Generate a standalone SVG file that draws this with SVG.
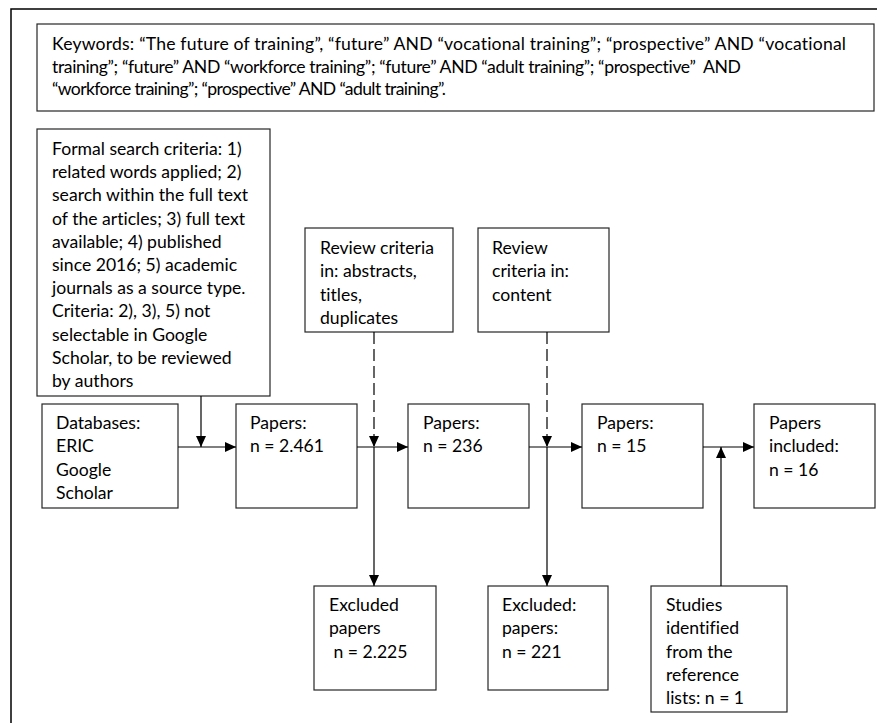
<svg xmlns="http://www.w3.org/2000/svg" width="877" height="723" viewBox="0 0 877 723">
<style>
.box{fill:#fff;stroke:#262626;stroke-width:1.2}
.t{font-family:Lato,"Liberation Sans",sans-serif;font-size:17.6px;fill:#000;font-variant-ligatures:none}
.c{stroke:#000;stroke-width:1.2;fill:none}
.d{stroke:#000;stroke-width:1.2;fill:none;stroke-dasharray:12 5}
.frame{stroke:#000;stroke-width:1.5;fill:none}
</style>
<defs>
<marker id="ah" markerUnits="userSpaceOnUse" markerWidth="12" markerHeight="12" viewBox="0 0 12 12" refX="11" refY="6" orient="auto">
<path d="M0,1 L11,6 L0,11 Z" fill="#000"/>
</marker>
</defs>
<g id="frame"><path class="frame" d="M11,723 V9 H877"/></g>
<g id="keywords">
<rect class="box" x="37" y="24" width="837" height="87"/>
<text class="t" x="52" y="50" textLength="794">Keywords: “The future of training”, “future” AND “vocational training”; “prospective” AND “vocational</text>
<text class="t" x="52" y="72.5" textLength="689" xml:space="preserve">training”; “future” AND “workforce training”; “future” AND “adult training”; “prospective”  AND</text>
<text class="t" x="52" y="95" textLength="394">“workforce training”; “prospective” AND “adult training”.</text>
</g>
<g id="formal">
<rect class="box" x="37" y="129" width="233" height="267"/>
<text class="t" x="52" y="155">Formal search criteria: 1)</text>
<text class="t" x="52" y="178.2">related words applied; 2)</text>
<text class="t" x="52" y="201.4">search within the full text</text>
<text class="t" x="52" y="224.6">of the articles; 3) full text</text>
<text class="t" x="52" y="247.8">available; 4) published</text>
<text class="t" x="52" y="271">since 2016; 5) academic</text>
<text class="t" x="52" y="294.2">journals as a source type.</text>
<text class="t" x="52" y="317.4">Criteria: 2), 3), 5) not</text>
<text class="t" x="52" y="340.6">selectable in Google</text>
<text class="t" x="52" y="363.8">Scholar, to be reviewed</text>
<text class="t" x="52" y="387">by authors</text>
</g>
<g id="review1">
<rect class="box" x="305" y="228" width="148" height="104"/>
<text class="t" x="320" y="254">Review criteria</text>
<text class="t" x="320" y="277.3">in: abstracts,</text>
<text class="t" x="320" y="300.6">titles,</text>
<text class="t" x="320" y="323.9">duplicates</text>
</g>
<g id="review2">
<rect class="box" x="478" y="228" width="131" height="104"/>
<text class="t" x="492" y="254">Review</text>
<text class="t" x="492" y="277.3">criteria in:</text>
<text class="t" x="492" y="300.6">content</text>
</g>
<g id="databases">
<rect class="box" x="42" y="404" width="136" height="104"/>
<text class="t" x="56" y="429">Databases:</text>
<text class="t" x="56" y="452.3">ERIC</text>
<text class="t" x="56" y="475.6">Google</text>
<text class="t" x="56" y="498.9">Scholar</text>
</g>
<g id="papers1">
<rect class="box" x="236" y="404" width="121" height="104"/>
<text class="t" x="250" y="429">Papers:</text>
<text class="t" x="250" y="452.3">n = 2.461</text>
</g>
<g id="papers2">
<rect class="box" x="408" y="404" width="121" height="104"/>
<text class="t" x="423" y="429">Papers:</text>
<text class="t" x="423" y="452.3">n = 236</text>
</g>
<g id="papers3">
<rect class="box" x="582" y="404" width="121" height="104"/>
<text class="t" x="597" y="429">Papers:</text>
<text class="t" x="597" y="452.3">n = 15</text>
</g>
<g id="included">
<rect class="box" x="754" y="404" width="121" height="104"/>
<text class="t" x="769" y="429">Papers</text>
<text class="t" x="769" y="452.3">included:</text>
<text class="t" x="769" y="475.6">n = 16</text>
</g>
<g id="excluded1">
<rect class="box" x="314" y="586" width="122" height="104"/>
<text class="t" x="329" y="611">Excluded</text>
<text class="t" x="329" y="634.3">papers</text>
<text class="t" x="329" y="657.6" xml:space="preserve"> n = 2.225</text>
</g>
<g id="excluded2">
<rect class="box" x="488" y="586" width="120" height="104"/>
<text class="t" x="502" y="611">Excluded:</text>
<text class="t" x="502" y="634.3">papers:</text>
<text class="t" x="502" y="657.6">n = 221</text>
</g>
<g id="studies">
<rect class="box" x="651" y="586" width="136" height="126"/>
<text class="t" x="666" y="611">Studies</text>
<text class="t" x="666" y="634.3">identified</text>
<text class="t" x="666" y="657.6">from the</text>
<text class="t" x="666" y="680.9">reference</text>
<text class="t" x="666" y="704.2">lists: n = 1</text>
</g>
<g id="connectors">
<line class="c" x1="178" y1="447" x2="236" y2="447" marker-end="url(#ah)"/>
<line class="c" x1="201" y1="396" x2="201" y2="447" marker-end="url(#ah)"/>
<line class="c" x1="357" y1="447" x2="408" y2="447" marker-end="url(#ah)"/>
<line class="d" x1="374" y1="332" x2="374" y2="447" marker-end="url(#ah)"/>
<line class="c" x1="374" y1="447" x2="374" y2="586" marker-end="url(#ah)"/>
<line class="c" x1="529" y1="447" x2="582" y2="447" marker-end="url(#ah)"/>
<line class="d" x1="547" y1="332" x2="547" y2="447" marker-end="url(#ah)"/>
<line class="c" x1="547" y1="447" x2="547" y2="586" marker-end="url(#ah)"/>
<line class="c" x1="703" y1="447" x2="754" y2="447" marker-end="url(#ah)"/>
<line class="c" x1="721" y1="586" x2="721" y2="447" marker-end="url(#ah)"/>
</g>
</svg>
